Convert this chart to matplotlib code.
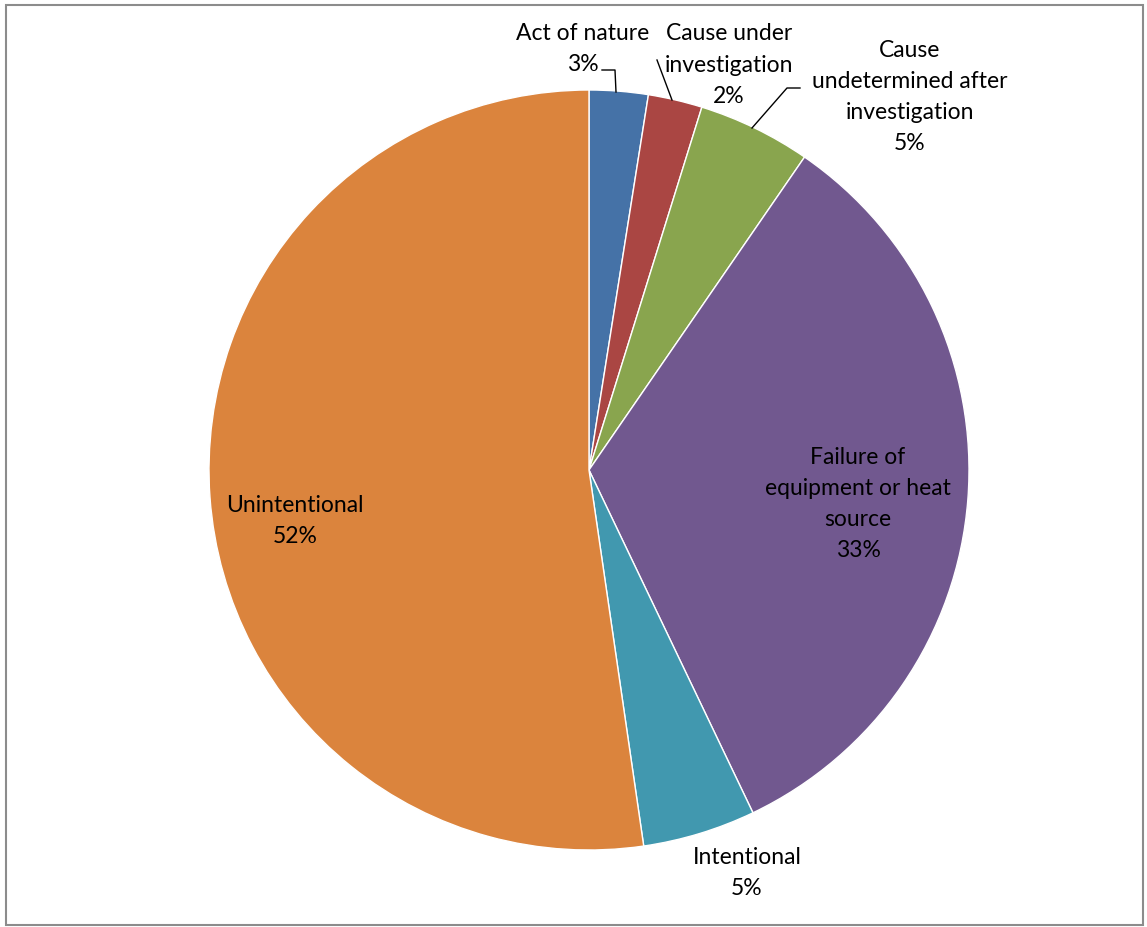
import math
import matplotlib
matplotlib.use("Agg")
import matplotlib.pyplot as plt
from matplotlib.patches import Rectangle

# Fire causes, share of incidents (%)
categories = [
    "Act of nature",
    "Cause under\ninvestigation",
    "Cause\nundetermined after\ninvestigation",
    "Failure of\nequipment or heat\nsource",
    "Intentional",
    "Unintentional",
]
shares = [2.5, 2.3, 4.8, 33.3, 4.8, 52.3]
colors = ["#4572A7", "#AA4643", "#89A54E", "#71588F", "#4198AF", "#DB843D"]

W, H = 1147, 927
CX, CY, R = 589, 470, 380

fig = plt.figure(figsize=(W / 100, H / 100), dpi=100)
ax = fig.add_axes([0, 0, 1, 1])
ax.axis("off")

ax.pie(shares, colors=colors, startangle=90, counterclock=False, radius=1.0,
       center=(0, 0), wedgeprops=dict(edgecolor="white", linewidth=1.0))
ax.set_xlim(-CX / R, (W - CX) / R)
ax.set_ylim(-(H - CY) / R, CY / R)
ax.set_aspect("auto")


def px(x, y):
    return (x - CX) / R, (CY - y) / R


def pct(v):
    return f"{math.floor(v + 0.5)}%"


label_pos = [(583, 49), (729, 65), (910, 97), (858, 504), (747, 873), (295, 521)]
font = dict(family=["Lato", "DejaVu Sans"], fontsize=16.5, color="black",
            ha="center", va="center", linespacing=1.6)
for name, v, (lx, ly) in zip(categories, shares, label_pos):
    ax.text(*px(lx, ly), f"{name}\n{pct(v)}", **font)

# Leader lines for the small top slices
leaders = [
    [(602, 70), (615, 70), (616, 92)],
    [(657, 60), (672, 100)],
    [(800, 88), (787, 88), (752, 128)],
]
for pts in leaders:
    xs, ys = zip(*[px(x, y) for x, y in pts])
    ax.plot(xs, ys, color="black", lw=1.0)

# Outer chart frame
fig.patches.append(Rectangle((6 / W, 1 - 925 / H), 1137 / W, 920 / H,
                             transform=fig.transFigure, fill=False,
                             edgecolor="#8c8c8c", linewidth=1.5))

fig.savefig("out.png", dpi=100)
